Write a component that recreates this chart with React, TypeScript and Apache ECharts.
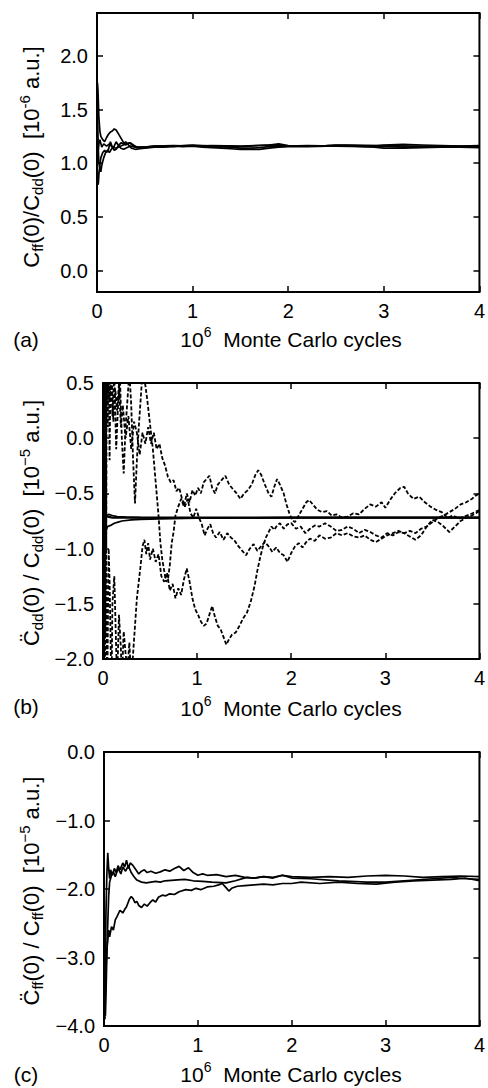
import React, { useEffect, useRef } from "react";
import * as echarts from "echarts";

const FF = "'Liberation Sans', Arial, Helvetica, sans-serif";

const xTicks = [0, 1, 2, 3, 4];

// Panel (a): Cff(0)/Cdd(0) [10^-6 a.u.]
const a1: [number, number][] = [[0,1.2],[0.005,1.75],[0.01,1.68],[0.015,1.55],[0.02,1.42],[0.03,1.3],[0.04,1.25],[0.06,1.22],[0.08,1.2],[0.1,1.24],[0.12,1.27],[0.14,1.29],[0.16,1.3],[0.18,1.32],[0.2,1.31],[0.22,1.28],[0.24,1.25],[0.26,1.22],[0.28,1.19],[0.3,1.17],[0.32,1.18],[0.34,1.19],[0.37,1.17],[0.4,1.15],[0.45,1.14],[0.5,1.145],[0.55,1.15],[0.6,1.155],[0.7,1.16],[0.8,1.155],[0.9,1.165],[1.0,1.17],[1.1,1.165],[1.2,1.16],[1.3,1.155],[1.4,1.16],[1.5,1.155],[1.6,1.16],[1.7,1.165],[1.8,1.17],[1.9,1.18],[2.0,1.165],[2.2,1.16],[2.4,1.165],[2.5,1.17],[2.7,1.165],[2.9,1.16],[3.0,1.17],[3.2,1.175],[3.4,1.17],[3.6,1.165],[3.8,1.16],[4.0,1.165]];
const a2: [number, number][] = [[0,1.0],[0.005,0.85],[0.01,0.8],[0.015,0.82],[0.02,0.9],[0.03,0.98],[0.04,1.05],[0.06,1.1],[0.08,1.12],[0.1,1.1],[0.12,1.13],[0.14,1.2],[0.16,1.15],[0.18,1.12],[0.2,1.13],[0.22,1.16],[0.25,1.19],[0.28,1.18],[0.3,1.2],[0.33,1.17],[0.36,1.14],[0.4,1.13],[0.45,1.135],[0.5,1.14],[0.6,1.15],[0.7,1.15],[0.8,1.16],[0.9,1.155],[1.0,1.16],[1.1,1.15],[1.2,1.145],[1.3,1.14],[1.4,1.135],[1.5,1.13],[1.6,1.128],[1.7,1.13],[1.8,1.14],[1.9,1.15],[2.0,1.155],[2.2,1.155],[2.4,1.16],[2.5,1.165],[2.7,1.16],[2.9,1.15],[3.0,1.14],[3.2,1.14],[3.4,1.145],[3.6,1.15],[3.8,1.15],[4.0,1.15]];
const a3: [number, number][] = [[0,1.3],[0.005,1.45],[0.01,1.25],[0.015,1.1],[0.02,1.0],[0.03,0.95],[0.04,0.92],[0.05,0.98],[0.07,1.05],[0.09,1.1],[0.11,1.12],[0.13,1.1],[0.15,1.13],[0.18,1.16],[0.2,1.2],[0.22,1.17],[0.25,1.14],[0.28,1.13],[0.3,1.14],[0.35,1.16],[0.4,1.15],[0.5,1.15],[0.6,1.16],[0.7,1.155],[0.8,1.16],[1.0,1.165],[1.2,1.155],[1.4,1.15],[1.5,1.14],[1.6,1.14],[1.7,1.145],[1.8,1.155],[2.0,1.16],[2.2,1.165],[2.5,1.16],[2.8,1.155],[3.0,1.16],[3.2,1.15],[3.4,1.15],[3.6,1.155],[3.8,1.15],[4.0,1.145]];
const a4: [number, number][] = [[0,1.5],[0.005,1.2],[0.01,1.1],[0.02,1.18],[0.03,1.22],[0.05,1.15],[0.07,1.18],[0.1,1.16],[0.13,1.18],[0.16,1.15],[0.2,1.14],[0.25,1.16],[0.3,1.18],[0.35,1.19],[0.38,1.17],[0.42,1.15],[0.5,1.15],[0.6,1.16],[0.8,1.165],[1.0,1.16],[1.2,1.165],[1.5,1.16],[1.8,1.17],[2.0,1.16],[2.3,1.16],[2.6,1.17],[3.0,1.165],[3.3,1.16],[3.6,1.16],[4.0,1.16]];

// Panel (b): C..dd(0)/Cdd(0) [10^-5 a.u.]
const bSolid1: [number, number][] = [[0,-0.3],[0.005,-1.2],[0.01,-0.9],[0.02,-0.82],[0.03,-0.84],[0.05,-0.8],[0.08,-0.79],[0.12,-0.77],[0.16,-0.76],[0.2,-0.75],[0.3,-0.74],[0.4,-0.735],[0.6,-0.73],[1.0,-0.725],[1.5,-0.722],[2.0,-0.72],[3.0,-0.72],[4.0,-0.72]];
const bSolid2: [number, number][] = [[0,-1.1],[0.005,-0.5],[0.01,-0.6],[0.02,-0.68],[0.03,-0.7],[0.05,-0.71],[0.1,-0.72],[0.2,-0.72],[0.4,-0.72],[1.0,-0.72],[2.0,-0.72],[4.0,-0.72]];
const bSolid3: [number, number][] = [[0,-0.6],[0.005,-0.9],[0.01,-0.8],[0.02,-0.75],[0.04,-0.7],[0.06,-0.69],[0.1,-0.7],[0.15,-0.71],[0.25,-0.715],[0.4,-0.72],[1.0,-0.722],[2.0,-0.72],[4.0,-0.72]];
const bDash1: [number, number][] = [[0,2],[0.005,-3],[0.01,2.5],[0.015,-2.5],[0.02,1.8],[0.025,-1.8],[0.03,1.4],[0.035,-1.0],[0.04,1.2],[0.05,0.1],[0.06,0.9],[0.07,-0.2],[0.08,0.7],[0.1,0.2],[0.12,0.6],[0.14,-0.1],[0.16,0.3],[0.18,0.55],[0.2,0.0],[0.22,-0.32],[0.24,0.1],[0.26,0.35],[0.28,0.6],[0.3,0.3],[0.32,-0.2],[0.34,-0.59],[0.36,-0.2],[0.38,0.1],[0.4,0.35],[0.42,0.6],[0.45,0.48],[0.47,0.35],[0.49,0.2],[0.51,0.05],[0.53,-0.1],[0.55,-0.3],[0.57,-0.5],[0.59,-0.7],[0.61,-0.95],[0.63,-1.1],[0.65,-1.2],[0.67,-1.3],[0.69,-1.28],[0.71,-1.15],[0.73,-0.95],[0.75,-0.85],[0.77,-0.7],[0.8,-0.62],[0.83,-0.55],[0.86,-0.62],[0.89,-0.5],[0.92,-0.58],[0.95,-0.47],[0.98,-0.52],[1.01,-0.45],[1.04,-0.5],[1.07,-0.4],[1.1,-0.37],[1.13,-0.34],[1.16,-0.45],[1.19,-0.5],[1.22,-0.42],[1.26,-0.38],[1.3,-0.34],[1.34,-0.42],[1.38,-0.46],[1.42,-0.5],[1.46,-0.55],[1.5,-0.5],[1.54,-0.47],[1.58,-0.42],[1.62,-0.33],[1.65,-0.29],[1.68,-0.33],[1.72,-0.42],[1.76,-0.5],[1.79,-0.53],[1.82,-0.44],[1.85,-0.37],[1.88,-0.42],[1.92,-0.5],[1.95,-0.6],[1.98,-0.68],[2.01,-0.74],[2.04,-0.76],[2.08,-0.7],[2.12,-0.64],[2.16,-0.58],[2.19,-0.56],[2.23,-0.6],[2.28,-0.65],[2.33,-0.67],[2.38,-0.66],[2.43,-0.7],[2.48,-0.69],[2.54,-0.72],[2.6,-0.71],[2.66,-0.68],[2.72,-0.69],[2.78,-0.64],[2.84,-0.6],[2.9,-0.62],[2.96,-0.58],[3.0,-0.63],[3.05,-0.56],[3.1,-0.5],[3.16,-0.45],[3.2,-0.44],[3.24,-0.5],[3.3,-0.55],[3.36,-0.53],[3.42,-0.58],[3.48,-0.62],[3.54,-0.65],[3.6,-0.67],[3.66,-0.72],[3.72,-0.7],[3.78,-0.73],[3.84,-0.71],[3.9,-0.69],[3.95,-0.67],[4.0,-0.65]];
const bDash2: [number, number][] = [[0,-3],[0.005,1.5],[0.01,-3],[0.015,0.8],[0.02,-2.8],[0.03,-0.7],[0.045,-2.3],[0.06,-1.0],[0.07,-1.3],[0.09,-2.3],[0.1,-1.5],[0.12,-1.25],[0.14,-1.9],[0.15,-2.2],[0.17,-1.6],[0.19,-1.9],[0.2,-2.2],[0.22,-1.75],[0.24,-1.95],[0.26,-2.1],[0.28,-1.85],[0.3,-2.2],[0.32,-1.95],[0.34,-1.7],[0.36,-1.45],[0.38,-1.3],[0.4,-1.15],[0.42,-0.98],[0.44,-0.92],[0.46,-1.05],[0.48,-0.95],[0.5,-1.1],[0.53,-1.0],[0.56,-1.12],[0.59,-1.05],[0.62,-1.25],[0.65,-1.3],[0.68,-1.22],[0.71,-1.38],[0.74,-1.32],[0.77,-1.45],[0.8,-1.36],[0.83,-1.42],[0.86,-1.28],[0.89,-1.18],[0.92,-1.3],[0.95,-1.45],[0.98,-1.55],[1.01,-1.6],[1.04,-1.66],[1.07,-1.7],[1.1,-1.68],[1.13,-1.6],[1.16,-1.52],[1.19,-1.62],[1.22,-1.7],[1.25,-1.73],[1.28,-1.8],[1.31,-1.87],[1.34,-1.82],[1.37,-1.78],[1.41,-1.76],[1.45,-1.7],[1.49,-1.63],[1.53,-1.58],[1.57,-1.48],[1.61,-1.34],[1.64,-1.2],[1.67,-1.08],[1.7,-0.98],[1.73,-0.9],[1.76,-0.85],[1.79,-0.8],[1.82,-0.83],[1.85,-0.79],[1.88,-0.77],[1.92,-0.82],[1.96,-0.78],[2.0,-0.77],[2.05,-0.82],[2.1,-0.8],[2.15,-0.86],[2.2,-0.82],[2.25,-0.79],[2.3,-0.8],[2.36,-0.77],[2.42,-0.8],[2.48,-0.84],[2.54,-0.83],[2.6,-0.8],[2.66,-0.82],[2.72,-0.86],[2.78,-0.83],[2.84,-0.85],[2.9,-0.88],[2.96,-0.9],[3.02,-0.86],[3.08,-0.88],[3.14,-0.85],[3.2,-0.86],[3.26,-0.89],[3.32,-0.92],[3.38,-0.88],[3.44,-0.8],[3.5,-0.74],[3.56,-0.76],[3.62,-0.8],[3.68,-0.85],[3.74,-0.8],[3.8,-0.75],[3.86,-0.72],[3.92,-0.7],[4.0,-0.66]];
const bDash3: [number, number][] = [[0,-2.5],[0.005,2.2],[0.01,-2],[0.015,1.8],[0.02,-1.5],[0.03,1.2],[0.04,0.3],[0.05,0.8],[0.07,0.35],[0.09,0.6],[0.11,0.15],[0.13,0.45],[0.15,0.25],[0.17,0.5],[0.19,0.1],[0.21,0.3],[0.24,0.0],[0.27,0.2],[0.3,-0.1],[0.33,0.15],[0.36,0.05],[0.39,-0.15],[0.42,0.05],[0.45,-0.05],[0.48,0.1],[0.51,-0.05],[0.54,0.05],[0.57,-0.1],[0.6,-0.05],[0.63,-0.18],[0.66,-0.25],[0.69,-0.35],[0.72,-0.4],[0.75,-0.38],[0.78,-0.48],[0.81,-0.45],[0.84,-0.55],[0.87,-0.62],[0.9,-0.55],[0.93,-0.68],[0.96,-0.72],[0.99,-0.64],[1.02,-0.72],[1.05,-0.78],[1.08,-0.88],[1.11,-0.82],[1.14,-0.78],[1.17,-0.86],[1.2,-0.9],[1.24,-0.85],[1.28,-0.92],[1.32,-0.86],[1.36,-0.9],[1.4,-0.93],[1.44,-0.98],[1.48,-1.02],[1.52,-1.06],[1.56,-1.0],[1.6,-0.96],[1.64,-1.02],[1.68,-0.98],[1.72,-0.94],[1.76,-0.98],[1.8,-1.03],[1.84,-0.99],[1.88,-1.04],[1.92,-1.06],[1.96,-1.12],[2.0,-1.04],[2.04,-0.98],[2.08,-0.95],[2.12,-0.99],[2.16,-0.94],[2.2,-0.91],[2.25,-0.93],[2.3,-0.88],[2.36,-0.91],[2.42,-0.9],[2.48,-0.86],[2.54,-0.88],[2.6,-0.86],[2.66,-0.89],[2.72,-0.9],[2.78,-0.88],[2.84,-0.92],[2.9,-0.94],[2.96,-0.91],[3.02,-0.88],[3.08,-0.86],[3.14,-0.84],[3.2,-0.86],[3.26,-0.84],[3.32,-0.86],[3.38,-0.82],[3.44,-0.8],[3.5,-0.76],[3.56,-0.72],[3.62,-0.7],[3.68,-0.67],[3.74,-0.64],[3.8,-0.6],[3.86,-0.58],[3.92,-0.55],[3.96,-0.52],[4.0,-0.5]];

// Panel (c): C..ff(0)/Cff(0) [10^-5 a.u.]
const c1: [number, number][] = [[0,-2.2],[0.005,-3.5],[0.01,-3.9],[0.015,-3.2],[0.02,-2.4],[0.03,-1.8],[0.04,-1.47],[0.05,-1.7],[0.06,-1.85],[0.07,-1.72],[0.09,-1.8],[0.11,-1.7],[0.13,-1.76],[0.15,-1.66],[0.17,-1.72],[0.2,-1.62],[0.22,-1.68],[0.24,-1.58],[0.26,-1.7],[0.28,-1.62],[0.31,-1.66],[0.34,-1.72],[0.37,-1.78],[0.4,-1.74],[0.43,-1.72],[0.46,-1.76],[0.5,-1.74],[0.55,-1.77],[0.6,-1.75],[0.65,-1.72],[0.7,-1.74],[0.75,-1.7],[0.8,-1.67],[0.85,-1.73],[0.9,-1.69],[0.95,-1.76],[1.0,-1.8],[1.05,-1.78],[1.1,-1.8],[1.2,-1.79],[1.3,-1.82],[1.4,-1.8],[1.5,-1.83],[1.6,-1.84],[1.7,-1.82],[1.8,-1.84],[1.9,-1.8],[2.0,-1.82],[2.2,-1.83],[2.4,-1.82],[2.6,-1.83],[2.8,-1.81],[3.0,-1.8],[3.2,-1.81],[3.4,-1.83],[3.6,-1.82],[3.8,-1.81],[4.0,-1.82]];
const c2: [number, number][] = [[0,-1.9],[0.005,-2.6],[0.01,-3.3],[0.015,-3.85],[0.02,-3.6],[0.03,-3.0],[0.04,-2.5],[0.05,-2.1],[0.06,-1.9],[0.08,-1.8],[0.1,-1.75],[0.12,-1.82],[0.15,-1.7],[0.18,-1.78],[0.2,-1.68],[0.23,-1.74],[0.26,-1.66],[0.29,-1.76],[0.32,-1.82],[0.35,-1.87],[0.4,-1.9],[0.45,-1.91],[0.5,-1.9],[0.55,-1.89],[0.6,-1.9],[0.65,-1.88],[0.75,-1.87],[0.86,-1.86],[0.95,-1.88],[1.05,-1.89],[1.15,-1.9],[1.3,-1.91],[1.4,-1.88],[1.52,-1.83],[1.6,-1.84],[1.7,-1.82],[1.8,-1.83],[1.9,-1.8],[2.0,-1.84],[2.2,-1.85],[2.5,-1.88],[2.8,-1.9],[3.0,-1.9],[3.2,-1.88],[3.5,-1.85],[3.7,-1.83],[3.85,-1.85],[4.0,-1.86]];
const c3: [number, number][] = [[0,-2.0],[0.005,-3.0],[0.01,-3.8],[0.015,-3.5],[0.02,-3.2],[0.03,-2.89],[0.04,-2.75],[0.05,-2.6],[0.06,-2.7],[0.08,-2.55],[0.1,-2.6],[0.12,-2.45],[0.14,-2.4],[0.17,-2.31],[0.2,-2.35],[0.22,-2.3],[0.24,-2.26],[0.27,-2.15],[0.29,-2.11],[0.31,-2.14],[0.33,-2.2],[0.35,-2.18],[0.37,-2.24],[0.4,-2.27],[0.43,-2.22],[0.46,-2.25],[0.49,-2.2],[0.52,-2.16],[0.55,-2.19],[0.58,-2.12],[0.62,-2.09],[0.66,-2.1],[0.7,-2.07],[0.75,-2.08],[0.8,-2.04],[0.87,-2.01],[0.93,-2.02],[0.98,-1.99],[1.03,-2.01],[1.1,-1.97],[1.17,-1.96],[1.22,-1.94],[1.26,-1.92],[1.3,-1.98],[1.33,-2.03],[1.36,-1.99],[1.42,-1.96],[1.5,-1.95],[1.6,-1.94],[1.7,-1.93],[1.8,-1.94],[1.9,-1.92],[2.0,-1.92],[2.1,-1.9],[2.3,-1.92],[2.5,-1.9],[2.7,-1.92],[2.9,-1.93],[3.1,-1.9],[3.3,-1.88],[3.5,-1.87],[3.7,-1.86],[3.85,-1.84],[4.0,-1.88]];

const fmtY = (v: number) => {
  const s = Math.abs(v) < 1e-9 ? "0.0" : v.toFixed(1);
  return s.replace("-", "\u2212");
};

const tickStyle = { inside: true, length: 6, lineStyle: { color: "#000", width: 1.5 } };
const noLine = { show: false, onZero: false };

function xAxesFor(grid: number) {
  const base = {
    type: "value",
    gridIndex: grid,
    min: xTicks[0],
    max: xTicks[xTicks.length - 1],
    interval: 1,
    splitLine: { show: false },
    axisLine: noLine,
    axisTick: tickStyle,
  };
  return [
    {
      ...base,
      position: "bottom",
      axisLabel: { fontSize: 20, color: "#000", fontFamily: FF, margin: 9, formatter: (v: number) => String(v) },
    },
    { ...base, position: "top", axisLabel: { show: false } },
  ];
}

function yAxesFor(grid: number, extra: any) {
  const { showEdge, ...rest } = extra;
  const base = {
    type: "value",
    gridIndex: grid,
    splitLine: { show: false },
    axisLine: noLine,
    axisTick: tickStyle,
    ...rest,
  };
  return [
    {
      ...base,
      position: "left",
      axisLabel: {
        fontSize: 20,
        color: "#000",
        fontFamily: FF,
        margin: 9,
        formatter: fmtY,
        showMinLabel: showEdge,
        showMaxLabel: showEdge,
      },
    },
    { ...base, position: "right", axisLabel: { show: false } },
  ];
}

const solid = (xi: number, data: [number, number][], w = 1.7) => ({
  type: "line",
  xAxisIndex: xi,
  yAxisIndex: xi,
  data,
  showSymbol: false,
  symbol: "none",
  clip: true,
  lineStyle: { color: "#000", width: w },
});

const dashed = (xi: number, data: [number, number][]) => ({
  type: "line",
  xAxisIndex: xi,
  yAxisIndex: xi,
  data,
  showSymbol: false,
  symbol: "none",
  clip: true,
  lineStyle: { color: "#000", width: 1.8, type: [4, 2] },
});

const rich = {
  b: { fontSize: 21, fontFamily: FF, fill: "#000", lineHeight: 28 },
  p: { fontSize: 14, fontFamily: FF, fill: "#000", lineHeight: 14, verticalAlign: "top" },
};
const richY = {
  b: { fontSize: 22, fontFamily: FF, fill: "#000", lineHeight: 28 },
  s: { fontSize: 15, fontFamily: FF, fill: "#000", lineHeight: 15, verticalAlign: "bottom" },
  p: { fontSize: 15, fontFamily: FF, fill: "#000", lineHeight: 15, verticalAlign: "top" },
};

const textEl = (x: number, y: number, text: string, r: any, rotation = 0) => ({
  type: "text",
  x,
  y,
  rotation,
  style: {
    text,
    rich: r,
    fill: "#000",
    font: `21px ${FF}`,
    align: "center",
    verticalAlign: "middle",
    textAlign: "center",
    textVerticalAlign: "middle",
  },
});

const xTitle = "{b|10}{p|6}{b|  Monte Carlo cycles}";

export default function App() {
  const ref = useRef<HTMLDivElement>(null);
  useEffect(() => {
    const chart = echarts.init(ref.current!, null, { renderer: "svg" });
    const gridStyle = { show: true, borderColor: "#000", borderWidth: 2, backgroundColor: "transparent" };
    const option: any = {
      animation: false,
      backgroundColor: "#fff",
      grid: [
        { left: 97, top: 13, width: 386, height: 279, ...gridStyle },
        { left: 103, top: 383, width: 380, height: 276, ...gridStyle },
        { left: 104, top: 752, width: 379, height: 274, ...gridStyle },
      ],
      xAxis: [...xAxesFor(0), ...xAxesFor(1), ...xAxesFor(2)],
      yAxis: [
        ...yAxesFor(0, { min: -0.2, max: 2.4, splitNumber: 5, showEdge: false }),
        ...yAxesFor(1, { min: -2, max: 0.5, interval: 0.5, showEdge: true }),
        ...yAxesFor(2, { min: -4, max: 0, interval: 1, showEdge: true }),
      ],
      series: [
        solid(0, a1),
        solid(0, a2),
        solid(0, a3),
        solid(0, a4),
        dashed(2, bDash1),
        dashed(2, bDash2),
        dashed(2, bDash3),
        solid(2, bSolid1, 1.7),
        solid(2, bSolid2, 2.2),
        solid(2, bSolid3, 1.7),
        solid(4, c1),
        solid(4, c2),
        solid(4, c3),
      ],
      graphic: {
        elements: [
          textEl(26, 339, "{b|(a)}", rich),
          textEl(291, 339, xTitle, rich),
          textEl(26, 706, "{b|(b)}", rich),
          textEl(291, 708, xTitle, rich),
          textEl(26, 1074, "{b|(c)}", rich),
          textEl(291, 1074, xTitle, rich),
          textEl(31, 157, "{b|C}{s|ff}{b|(0)/C}{s|dd}{b|(0)  [10}{p|-6}{b| a.u.]}", richY, Math.PI / 2),
          textEl(31, 523, "{b|C\u0308}{s|dd}{b|(0) / C}{s|dd}{b|(0)  [10}{p|\u22125}{b| a.u.]}", richY, Math.PI / 2),
          textEl(31, 891, "{b|C\u0308}{s|ff}{b|(0) / C}{s|ff}{b|(0)  [10}{p|\u22125}{b| a.u.]}", richY, Math.PI / 2),
        ],
      },
    };
    chart.setOption(option);
    return () => chart.dispose();
  }, []);
  return (
    <div
      ref={ref}
      style={{ position: "fixed", left: 0, top: 0, width: 488, height: 1088, background: "#fff" }}
    />
  );
}
